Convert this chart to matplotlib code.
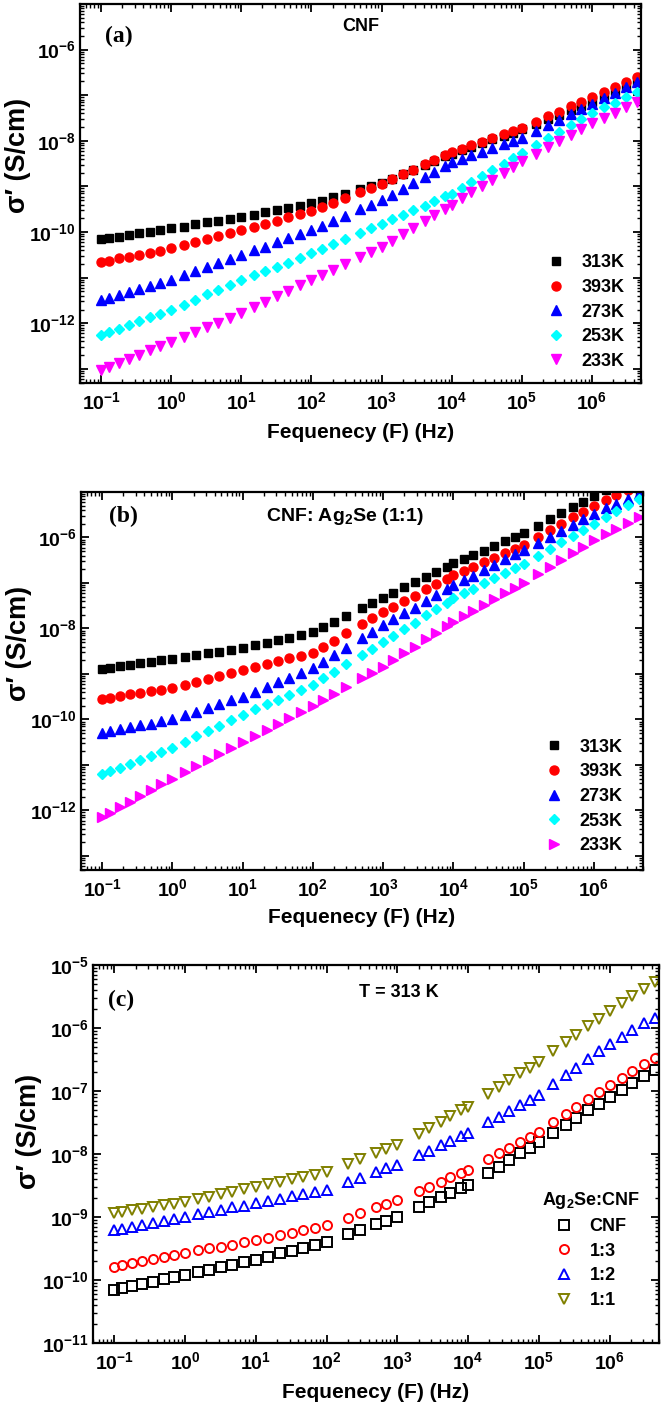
import numpy as np
import matplotlib
matplotlib.use('Agg')
from matplotlib import pyplot as plt
from matplotlib.ticker import FixedLocator, FuncFormatter, LogLocator, NullFormatter

plt.rcParams['font.family'] = ['Liberation Sans', 'DejaVu Sans']
plt.rcParams['font.weight'] = 'bold'
plt.rcParams['mathtext.default'] = 'regular'

# measured frequencies (Hz), panels (a) and (b)
freq_ab = [0.1, 0.13, 0.18, 0.25, 0.35, 0.5, 0.7, 1.0,
           1.5, 2.2, 3.2, 4.6, 6.8, 10,
           15, 22, 32, 46, 68, 100,
           140, 200, 300, 500, 700, 1000,
           1400, 2000, 2800, 4100, 5600, 8000, 1e4,
           1.4e4, 1.9e4, 2.7e4, 3.8e4, 5.5e4, 7.5e4, 1e5,
           1.6e5, 2.4e5, 3.4e5, 5e5, 7e5, 1e6,
           1.5e6, 2.1e6, 3.1e6, 4.4e6]
# panel (c) has gaps after 100 Hz, 1 kHz and 10 kHz
freq_c = [0.1, 0.13, 0.18, 0.25, 0.35, 0.5, 0.7, 1.0,
          1.5, 2.2, 3.2, 4.6, 6.8, 10,
          15, 22, 32, 46, 68, 100,
          200, 300, 500, 700, 1000,
          2000, 2800, 4100, 5600, 8000, 1e4,
          1.9e4, 2.7e4, 3.8e4, 5.5e4, 7.5e4, 1e5,
          1.6e5, 2.4e5, 3.4e5, 5e5, 7e5, 1e6,
          1.5e6, 2.1e6, 3.1e6, 4.4e6]

# log10 of sigma' (S/cm)
# (a) CNF
a_313 = [-10.16, -10.13, -10.10, -10.06, -10.03, -9.99, -9.96, -9.92,
         -9.88, -9.83, -9.79, -9.75, -9.71, -9.67,
         -9.62, -9.57, -9.52, -9.47, -9.42, -9.37,
         -9.31, -9.24, -9.16, -9.06, -9.00, -8.93,
         -8.83, -8.73, -8.64, -8.53, -8.44, -8.34, -8.28,
         -8.20, -8.13, -8.05, -7.97, -7.89, -7.82, -7.75,
         -7.63, -7.52, -7.43, -7.33, -7.24, -7.15,
         -7.02, -6.91, -6.79, -6.68]
a_393 = [-10.66, -10.63, -10.58, -10.54, -10.50, -10.45, -10.41, -10.36,
         -10.29, -10.22, -10.16, -10.09, -10.03, -9.96,
         -9.89, -9.82, -9.75, -9.68, -9.61, -9.54,
         -9.45, -9.36, -9.25, -9.12, -9.03, -8.94,
         -8.84, -8.73, -8.63, -8.52, -8.42, -8.32, -8.25,
         -8.17, -8.10, -8.02, -7.94, -7.86, -7.79, -7.72,
         -7.58, -7.46, -7.36, -7.24, -7.14, -7.04,
         -6.92, -6.82, -6.71, -6.61]
a_273 = [-11.49, -11.44, -11.38, -11.31, -11.25, -11.18, -11.12, -11.05,
         -10.95, -10.86, -10.77, -10.69, -10.59, -10.50,
         -10.40, -10.32, -10.23, -10.14, -10.05, -9.96,
         -9.86, -9.76, -9.65, -9.50, -9.40, -9.30,
         -9.18, -9.05, -8.93, -8.79, -8.68, -8.55, -8.47,
         -8.39, -8.32, -8.24, -8.16, -8.07, -8.00, -7.93,
         -7.78, -7.65, -7.54, -7.41, -7.30, -7.19,
         -7.06, -6.95, -6.82, -6.71]
a_253 = [-12.26, -12.20, -12.12, -12.04, -11.96, -11.87, -11.79, -11.70,
         -11.59, -11.48, -11.37, -11.27, -11.16, -11.05,
         -10.95, -10.85, -10.76, -10.67, -10.57, -10.47,
         -10.37, -10.27, -10.16, -10.02, -9.92, -9.82,
         -9.72, -9.62, -9.52, -9.42, -9.33, -9.22, -9.16,
         -9.03, -8.91, -8.78, -8.64, -8.50, -8.38, -8.27,
         -8.09, -7.94, -7.81, -7.66, -7.53, -7.40,
         -7.27, -7.17, -7.05, -6.94]
a_233 = [-13.02, -12.95, -12.87, -12.78, -12.69, -12.59, -12.50, -12.41,
         -12.30, -12.19, -12.09, -11.99, -11.89, -11.78,
         -11.65, -11.53, -11.41, -11.30, -11.17, -11.05,
         -10.94, -10.83, -10.71, -10.55, -10.44, -10.33,
         -10.19, -10.05, -9.91, -9.76, -9.63, -9.49, -9.40,
         -9.26, -9.13, -8.99, -8.85, -8.70, -8.57, -8.45,
         -8.28, -8.13, -8.01, -7.87, -7.74, -7.62,
         -7.49, -7.39, -7.27, -7.16]

# (b) CNF: Ag2Se (1:1)
b_313 = [-8.89, -8.86, -8.83, -8.80, -8.77, -8.74, -8.70, -8.67,
         -8.63, -8.59, -8.55, -8.51, -8.47, -8.43,
         -8.37, -8.31, -8.25, -8.20, -8.14, -8.08,
         -7.97, -7.85, -7.72, -7.56, -7.45, -7.33,
         -7.22, -7.10, -6.99, -6.86, -6.76, -6.64, -6.57,
         -6.48, -6.39, -6.29, -6.19, -6.08, -5.99, -5.91,
         -5.74, -5.59, -5.47, -5.33, -5.21, -5.08,
         -4.95, -4.84, -4.71, -4.60]
b_393 = [-9.55, -9.52, -9.49, -9.45, -9.42, -9.38, -9.35, -9.31,
         -9.24, -9.17, -9.11, -9.04, -8.98, -8.91,
         -8.84, -8.78, -8.72, -8.66, -8.60, -8.54,
         -8.41, -8.27, -8.11, -7.91, -7.78, -7.64,
         -7.52, -7.40, -7.28, -7.14, -7.03, -6.91, -6.83,
         -6.74, -6.65, -6.55, -6.45, -6.34, -6.25, -6.17,
         -5.99, -5.84, -5.71, -5.56, -5.43, -5.30,
         -5.17, -5.06, -4.95, -4.85]
b_273 = [-10.29, -10.26, -10.22, -10.17, -10.13, -10.09, -10.04, -10.00,
         -9.91, -9.83, -9.75, -9.67, -9.58, -9.50,
         -9.39, -9.28, -9.18, -9.08, -8.97, -8.87,
         -8.73, -8.59, -8.42, -8.21, -8.08, -7.93,
         -7.80, -7.66, -7.54, -7.39, -7.27, -7.14, -7.05,
         -6.94, -6.84, -6.72, -6.60, -6.48, -6.37, -6.28,
         -6.12, -5.98, -5.86, -5.72, -5.60, -5.48,
         -5.36, -5.26, -5.15, -5.04]
b_253 = [-11.21, -11.14, -11.06, -10.98, -10.89, -10.80, -10.71, -10.62,
         -10.49, -10.37, -10.26, -10.14, -10.02, -9.90,
         -9.78, -9.67, -9.57, -9.46, -9.35, -9.24,
         -9.10, -8.96, -8.79, -8.58, -8.45, -8.30,
         -8.16, -8.01, -7.87, -7.71, -7.58, -7.43, -7.34,
         -7.23, -7.13, -7.01, -6.90, -6.78, -6.67, -6.58,
         -6.40, -6.25, -6.11, -5.96, -5.83, -5.70,
         -5.55, -5.42, -5.28, -5.15]
b_233 = [-12.15, -12.05, -11.93, -11.81, -11.69, -11.56, -11.43, -11.30,
         -11.16, -11.03, -10.90, -10.77, -10.63, -10.50,
         -10.36, -10.23, -10.10, -9.97, -9.83, -9.70,
         -9.57, -9.44, -9.29, -9.10, -8.97, -8.84,
         -8.69, -8.54, -8.40, -8.23, -8.10, -7.95, -7.85,
         -7.73, -7.61, -7.48, -7.36, -7.22, -7.11, -7.00,
         -6.81, -6.64, -6.50, -6.34, -6.20, -6.05,
         -5.92, -5.81, -5.68, -5.56]

# (c) T = 313 K, Ag2Se:CNF ratios
c_cnf = [-10.16, -10.13, -10.10, -10.06, -10.03, -9.99, -9.96, -9.92,
         -9.88, -9.84, -9.80, -9.76, -9.72, -9.68,
         -9.63, -9.58, -9.54, -9.49, -9.45, -9.40,
         -9.27, -9.20, -9.12, -9.06, -9.00,
         -8.85, -8.77, -8.69, -8.62, -8.54, -8.49,
         -8.30, -8.20, -8.10, -7.99, -7.90, -7.81,
         -7.66, -7.54, -7.43, -7.31, -7.20, -7.09,
         -6.98, -6.88, -6.77, -6.67]
c_13 = [-9.79, -9.76, -9.73, -9.70, -9.67, -9.64, -9.60, -9.57,
        -9.53, -9.50, -9.47, -9.44, -9.40, -9.37,
        -9.33, -9.29, -9.25, -9.21, -9.17, -9.13,
        -9.01, -8.94, -8.85, -8.79, -8.73,
        -8.59, -8.52, -8.44, -8.37, -8.30, -8.25,
        -8.08, -7.99, -7.90, -7.81, -7.73, -7.65,
        -7.50, -7.37, -7.25, -7.13, -7.02, -6.90,
        -6.79, -6.69, -6.58, -6.48]
c_12 = [-9.21, -9.19, -9.16, -9.13, -9.10, -9.07, -9.04, -9.00,
        -8.96, -8.92, -8.89, -8.85, -8.82, -8.78,
        -8.74, -8.71, -8.67, -8.64, -8.60, -8.57,
        -8.45, -8.38, -8.29, -8.23, -8.17,
        -8.02, -7.95, -7.86, -7.80, -7.72, -7.67,
        -7.50, -7.41, -7.32, -7.22, -7.14, -7.06,
        -6.89, -6.75, -6.63, -6.49, -6.37, -6.25,
        -6.14, -6.04, -5.93, -5.84]
c_11 = [-8.94, -8.92, -8.89, -8.87, -8.84, -8.81, -8.79, -8.76,
        -8.72, -8.68, -8.64, -8.60, -8.56, -8.52,
        -8.48, -8.44, -8.40, -8.37, -8.33, -8.29,
        -8.16, -8.08, -7.99, -7.92, -7.86,
        -7.68, -7.59, -7.49, -7.40, -7.31, -7.25,
        -7.05, -6.94, -6.83, -6.72, -6.63, -6.54,
        -6.37, -6.23, -6.11, -5.97, -5.86, -5.73,
        -5.60, -5.50, -5.38, -5.27]

temps = ['313K', '393K', '273K', '253K', '233K']
ratios = ['CNF', '1:3', '1:2', '1:1']


def dec_label(every):
    def f(v, pos):
        e = int(round(np.log10(v)))
        if e % every:
            return ''
        return r'$\mathdefault{10^{%d}}$' % e
    return f


def style(ax, ylo, yhi, ymajor, every):
    ax.set_xscale('log')
    ax.set_yscale('log')
    ax.set_xlim(0.05, 5e6)
    ax.set_ylim(ylo, yhi)
    ax.xaxis.set_major_locator(FixedLocator([10.0 ** k for k in range(-1, 7)]))
    ax.xaxis.set_major_formatter(FuncFormatter(dec_label(1)))
    ax.yaxis.set_major_locator(FixedLocator([10.0 ** k for k in ymajor]))
    ax.yaxis.set_major_formatter(FuncFormatter(dec_label(every)))
    for a in (ax.xaxis, ax.yaxis):
        a.set_minor_locator(LogLocator(base=10, subs=np.arange(2, 10), numticks=200))
        a.set_minor_formatter(NullFormatter())
    ax.tick_params(which='both', direction='in', top=True, right=True, labelsize=14)
    ax.tick_params(which='major', length=6, width=1.3)
    ax.tick_params(which='minor', length=3, width=1.0)
    ax.tick_params(axis='x', pad=6)
    ax.tick_params(axis='y', pad=3)
    for s in ax.spines.values():
        s.set_linewidth(1.6)
    ax.set_xlabel('Fequenecy (F) (Hz)', fontsize=15, fontweight='bold')
    ax.set_ylabel('σ′ (S/cm)', fontsize=19.5, fontweight='bold')


fig = plt.figure(figsize=(6.61, 14.08), dpi=100)
leg_kw = dict(loc='lower right', frameon=False, fontsize=13, borderpad=0,
              borderaxespad=0, labelspacing=0.42, handletextpad=0.9, handlelength=1.0)

# ---- (a)
ax = fig.add_axes([0.1210, 0.7280, 0.8487, 0.2692])
fab = np.array(freq_ab)
filled = [('s', 'black', 6), ('o', 'red', 6.5), ('^', 'blue', 7), ('D', 'cyan', 5.5), ('v', 'magenta', 7)]
for vals, lab, (m, c, ms) in zip([a_313, a_393, a_273, a_253, a_233], temps, filled):
    ax.plot(fab, 10.0 ** np.array(vals), ls='none', marker=m, color=c, ms=ms, label=lab)
style(ax, 4.9e-14, 1e-5, range(-13, -5), 2)
ax.xaxis.set_label_coords(0.5, -0.105)
ax.yaxis.set_label_coords(-0.087, 0.6)
ax.text(0.045, 0.913, '(a)', transform=ax.transAxes, family='Liberation Serif',
        fontsize=17, fontweight='bold', va='center', ha='left')
ax.text(0.5, 0.94, 'CNF', transform=ax.transAxes, fontsize=13, fontweight='bold',
        va='center', ha='center')
ax.legend(bbox_to_anchor=(0.97, 0.035), **leg_kw)

# ---- (b)
ax = fig.add_axes([0.1225, 0.3821, 0.8502, 0.2685])
filled_b = [('s', 'black', 6), ('o', 'red', 6.5), ('^', 'blue', 7), ('D', 'cyan', 5.5), ('>', 'magenta', 7)]
for vals, lab, (m, c, ms) in zip([b_313, b_393, b_273, b_253, b_233], temps, filled_b):
    ax.plot(fab, 10.0 ** np.array(vals), ls='none', marker=m, color=c, ms=ms, label=lab)
style(ax, 4.9e-14, 1e-5, range(-13, -5), 2)
ax.xaxis.set_label_coords(0.5, -0.10)
ax.yaxis.set_label_coords(-0.087, 0.6)
ax.text(0.05, 0.934, '(b)', transform=ax.transAxes, family='Liberation Serif',
        fontsize=17, fontweight='bold', va='center', ha='left')
ax.text(0.47, 0.934, 'CNF: Ag$_2$Se (1:1)', transform=ax.transAxes, fontsize=14,
        fontweight='bold', va='center', ha='center')
ax.legend(bbox_to_anchor=(0.964, 0.042), **leg_kw)

# ---- (c)
ax = fig.add_axes([0.1407, 0.0462, 0.8563, 0.2685])
fc = np.array(freq_c)
opened = [('s', 'black'), ('o', 'red'), ('^', 'blue'), ('v', '#808000')]
for vals, lab, (m, c) in zip([c_cnf, c_13, c_12, c_11], ratios, opened):
    ax.plot(fc, 10.0 ** np.array(vals), ls='none', marker=m, mfc='none', mec=c,
            mew=1.4, ms=6.5, label=lab)
style(ax, 1e-11, 1e-5, range(-11, -4), 1)
ax.xaxis.set_label_coords(0.5, -0.105)
ax.yaxis.set_label_coords(-0.09, 0.56)
ax.text(0.027, 0.907, '(c)', transform=ax.transAxes, family='Liberation Serif',
        fontsize=17, fontweight='bold', va='center', ha='left')
ax.text(0.54, 0.926, 'T = 313 K', transform=ax.transAxes, fontsize=13,
        fontweight='bold', va='center', ha='center')
ax.legend(bbox_to_anchor=(0.966, 0.09), title='Ag$_2$Se:CNF',
          title_fontproperties={'weight': 'bold', 'size': 13}, **leg_kw)

fig.savefig('out.png', dpi=100)
